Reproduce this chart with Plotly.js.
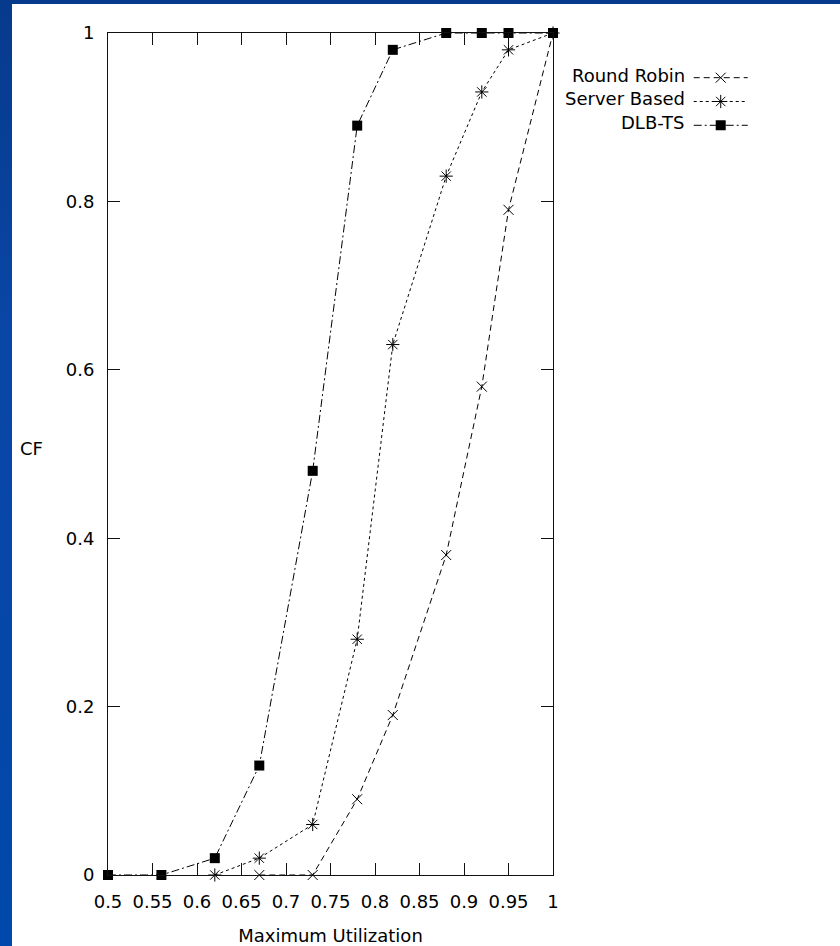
<!DOCTYPE html>
<html>
<head>
<meta charset="utf-8">
<script src="https://cdn.plot.ly/plotly-3.0.1.min.js"></script>
<style>
  html, body { margin: 0; padding: 0; }
  #frame {
    position: relative; width: 840px; height: 946px; overflow: hidden;
    background: linear-gradient(to bottom, #063a8c 0%, #0a46a6 35%, #0048ab 100%);
  }
  #chart { position: absolute; left: 12px; top: 4px; width: 828px; height: 942px; background: #fff; }
</style>
</head>
<body>
<div id="frame"><div id="chart"></div></div>
<script>
// ---- data ----
const seriesNames = ['Round Robin', 'Server Based', 'DLB-TS'];

const rrX  = [0.67, 0.73, 0.78, 0.82, 0.88, 0.92, 0.95, 1.00];
const rrY  = [0.00, 0.00, 0.09, 0.19, 0.38, 0.58, 0.79, 1.00];

const sbX  = [0.62, 0.67, 0.73, 0.78, 0.82, 0.88, 0.92, 0.95, 1.00];
const sbY  = [0.00, 0.02, 0.06, 0.28, 0.63, 0.83, 0.93, 0.98, 1.00];

const dlbX = [0.50, 0.56, 0.62, 0.67, 0.73, 0.78, 0.82, 0.88, 0.92, 0.95, 1.00];
const dlbY = [0.00, 0.00, 0.02, 0.13, 0.48, 0.89, 0.98, 1.00, 1.00, 1.00, 1.00];

const xTickVals   = [0.5, 0.55, 0.6, 0.65, 0.7, 0.75, 0.8, 0.85, 0.9, 0.95, 1];
const xTickLabels = ['0.5', '0.55', '0.6', '0.65', '0.7', '0.75', '0.8', '0.85', '0.9', '0.95', '1'];
const yTickVals   = [0, 0.2, 0.4, 0.6, 0.8, 1];
const yTickLabels = ['0', '0.2', '0.4', '0.6', '0.8', '1'];

const xTitle = 'Maximum Utilization';
const yTitle = 'CF';

// ---- styling ----
const FONT = 'DejaVu Sans, Liberation Sans, Arial, sans-serif';
const INK = '#000';
const styles = [
  { dash: '6px,4px',            symbol: 'x-thin-open',   size: 10, mlw: 1 },
  { dash: '3px,3px',            symbol: 'asterisk-open', size: 11, mlw: 1 },
  { dash: '8px,3px,2px,3px',    symbol: 'square',        size: 10, mlw: 0 }
];
const xs = [rrX, sbX, dlbX];
const ys = [rrY, sbY, dlbY];

const traces = seriesNames.map((nm, i) => ({
  type: 'scatter', mode: 'lines+markers',
  x: xs[i], y: ys[i], name: '',
  hovertext: nm,
  line: { color: INK, width: 1, dash: styles[i].dash },
  marker: { symbol: styles[i].symbol, size: styles[i].size, color: INK,
            line: { color: INK, width: styles[i].mlw } },
  cliponaxis: false,
  showlegend: true
}));

const legendAnn = seriesNames.map((nm, i) => ({
  xref: 'paper', yref: 'paper', x: 1.301, y: 0.950 - i * 0.0283,
  xanchor: 'right', yanchor: 'middle', showarrow: false,
  text: nm, font: { family: FONT, size: 18, color: INK }
}));

const layout = {
  width: 828, height: 942,
  margin: { l: 96, r: 287, t: 29, b: 71 },
  paper_bgcolor: '#fff', plot_bgcolor: '#fff',
  font: { family: FONT, size: 18, color: INK },
  showlegend: true,
  legend: {
    x: 1.305, y: 0.967, xanchor: 'left', yanchor: 'top',
    bgcolor: 'rgba(0,0,0,0)', borderwidth: 0,
    itemwidth: 54, font: { family: FONT, size: 16, color: INK },
    tracegroupgap: 0, traceorder: 'normal'
  },
  xaxis: {
    range: [0.5, 1], tickvals: xTickVals, ticktext: xTickLabels,
    ticks: 'inside', ticklen: 12, tickwidth: 1, tickcolor: '#111',
    showline: true, linecolor: '#111', linewidth: 1, mirror: 'allticks',
    showgrid: false, zeroline: false, ticklabelstandoff: 10,
    tickfont: { family: FONT, size: 18, color: INK },
    title: { text: xTitle, font: { family: FONT, size: 18, color: INK }, standoff: 22 },
    automargin: false, fixedrange: true
  },
  yaxis: {
    range: [0, 1], tickvals: yTickVals, ticktext: yTickLabels,
    ticks: 'inside', ticklen: 12, tickwidth: 1, tickcolor: '#111',
    showline: true, linecolor: '#111', linewidth: 1, mirror: 'allticks',
    showgrid: false, zeroline: false, ticklabelstandoff: 9,
    tickfont: { family: FONT, size: 18, color: INK },
    automargin: false, fixedrange: true
  },
  annotations: [
    { xref: 'paper', yref: 'paper', x: -0.173, y: 0.507, xanchor: 'center', yanchor: 'middle',
      showarrow: false, text: yTitle, font: { family: FONT, size: 18, color: INK } }
  ].concat(legendAnn)
};

Plotly.newPlot('chart', traces, layout, { displayModeBar: false, staticPlot: true });
</script>
</body>
</html>
